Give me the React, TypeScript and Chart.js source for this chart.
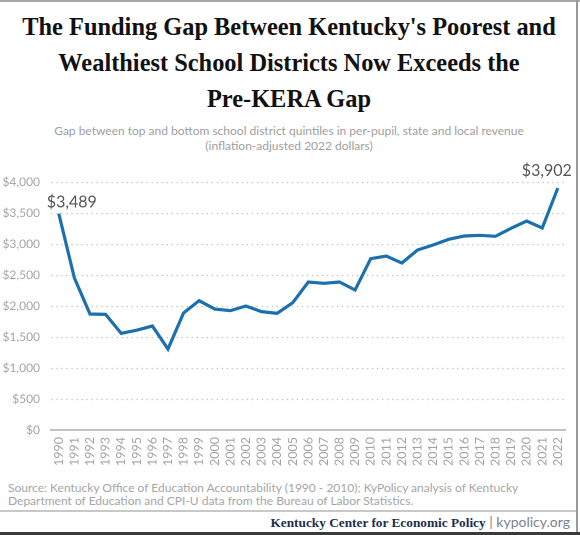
import React, { useEffect, useRef } from "react";
import { Chart, registerables } from "chart.js";

Chart.register(...registerables);

const years = [
  "1990", "1991", "1992", "1993", "1994", "1995", "1996", "1997", "1998", "1999",
  "2000", "2001", "2002", "2003", "2004", "2005", "2006", "2007", "2008", "2009",
  "2010", "2011", "2012", "2013", "2014", "2015", "2016", "2017", "2018", "2019",
  "2020", "2021", "2022",
];

const gapValues = [
  3489, 2452, 1871, 1865, 1559, 1610, 1677, 1306, 1887, 2086,
  1951, 1925, 2000, 1909, 1882, 2054, 2387, 2366, 2387, 2258,
  2763, 2806, 2693, 2903, 2984, 3075, 3129, 3140, 3124, 3253,
  3371, 3258, 3902,
];

const yMin = 0;
const yMax = 4000;
const yStep = 500;

const labelledPoints = [
  { index: 0, text: "$3,489" },
  { index: 32, text: "$3,902" },
];

const titleLines = [
  "The Funding Gap Between Kentucky's Poorest and",
  "Wealthiest School Districts Now Exceeds the",
  "Pre-KERA Gap",
];
const subtitleLines = [
  "Gap between top and bottom school district quintiles in per-pupil, state and local revenue",
  "(inflation-adjusted 2022 dollars)",
];
const sourceLines = [
  "Source: Kentucky Office of Education Accountability (1990 - 2010); KyPolicy analysis of Kentucky",
  "Department of Education and CPI-U data from the Bureau of Labor Statistics.",
];

const SANS = "Lato, 'Open Sans', sans-serif";
const SERIF = "'Liberation Serif', 'DejaVu Serif', serif";

const labelStyles: Record<number, { align: CanvasTextAlign; dx: number; dy: number }> = {
  0: { align: "left", dx: -12, dy: -6 },
  32: { align: "right", dx: 14, dy: -12 },
};

const overlayPlugin = {
  id: "overlay",
  beforeDatasetsDraw(chart: any) {
    const { ctx, chartArea, scales } = chart;
    const y = scales.y;
    ctx.save();
    ctx.strokeStyle = "#c4c4c4";
    ctx.lineWidth = 1.6;
    ctx.lineCap = "round";
    ctx.setLineDash([0.01, 5]);
    y.ticks.forEach((t: any) => {
      if (t.value === 0) return;
      const py = Math.round(y.getPixelForValue(t.value)) + 0.5;
      ctx.beginPath();
      ctx.moveTo(chartArea.left + 1, py);
      ctx.lineTo(chartArea.right - 2, py);
      ctx.stroke();
    });
    ctx.restore();
  },
  afterDatasetsDraw(chart: any) {
    const { ctx, scales } = chart;
    ctx.save();
    ctx.fillStyle = "#555555";
    ctx.font = `16px ${SANS}`;
    ctx.textBaseline = "alphabetic";
    labelledPoints.forEach((p) => {
      const st = labelStyles[p.index];
      const px = scales.x.getPixelForValue(p.index);
      const py = scales.y.getPixelForValue(gapValues[p.index]);
      ctx.textAlign = st.align;
      ctx.fillText(p.text, px + st.dx, py + st.dy);
    });
    ctx.restore();
  },
};

function GapChart() {
  const ref = useRef<HTMLCanvasElement | null>(null);
  useEffect(() => {
    if (!ref.current) return;
    const chart = new Chart(ref.current, {
      type: "line",
      data: {
        labels: years,
        datasets: [
          {
            data: gapValues,
            borderColor: "#1b70ad",
            borderWidth: 3.2,
            pointRadius: 0,
            pointHoverRadius: 0,
            tension: 0,
            fill: false,
            borderJoinStyle: "miter",
          },
        ],
      },
      options: {
        animation: false,
        responsive: false,
        devicePixelRatio: 2,
        layout: { padding: { top: 22, right: 11, bottom: 0, left: 0 } },
        plugins: {
          legend: { display: false },
          tooltip: { enabled: false },
          title: { display: false },
        },
        scales: {
          x: {
            type: "category",
            offset: true,
            grid: { display: false, drawTicks: false },
            border: { display: true, color: "#c2c2c2", width: 2 },
            ticks: {
              autoSkip: false,
              minRotation: 90,
              maxRotation: 90,
              padding: 7,
              color: "#a3a3a3",
              font: { family: SANS, size: 12.5 },
            },
            afterFit: (s: any) => {
              s.height = 50;
            },
          },
          y: {
            min: yMin,
            max: yMax,
            grid: { display: false, drawTicks: false },
            border: { display: false },
            ticks: {
              stepSize: yStep,
              padding: 11,
              color: "#a3a3a3",
              font: { family: SANS, size: 12 },
              callback: (v: any) => "$" + Number(v).toLocaleString("en-US"),
            },
            afterFit: (s: any) => {
              s.width = 51;
            },
          },
        },
      },
      plugins: [overlayPlugin],
    });
    return () => chart.destroy();
  }, []);
  return (
    <canvas
      ref={ref}
      width={580}
      height={320}
      style={{ position: "absolute", left: 0, top: 160, width: 580, height: 320 }}
    />
  );
}

export default function App() {
  return (
    <div
      style={{
        position: "fixed",
        left: 0,
        top: 0,
        width: 580,
        height: 535,
        background: "#ffffff",
        overflow: "hidden",
      }}
    >
      <div style={{ position: "absolute", left: 0, top: 0, width: 580, height: 2, background: "#a8a8a8" }} />
      <div style={{ position: "absolute", left: 576, top: 0, width: 2, height: 535, background: "#9a9a9a" }} />
      <div style={{ position: "absolute", left: 0, top: 532, width: 580, height: 3, background: "#3a3a3a" }} />
      <div
        style={{
          position: "absolute",
          left: 0,
          top: 9,
          width: 578,
          textAlign: "center",
          fontFamily: SERIF,
          fontWeight: 700,
          fontSize: 24.4,
          lineHeight: "36px",
          color: "#111111",
          whiteSpace: "nowrap",
        }}
      >
        {titleLines.map((t, i) => (
          <div key={i}>{t}</div>
        ))}
      </div>
      <div
        style={{
          position: "absolute",
          left: 0,
          top: 122.5,
          width: 578,
          textAlign: "center",
          fontFamily: SANS,
          fontSize: 12,
          lineHeight: "15px",
          color: "#a0a0a0",
          whiteSpace: "nowrap",
        }}
      >
        {subtitleLines.map((t, i) => (
          <div key={i}>{t}</div>
        ))}
      </div>
      <GapChart />
      <div
        style={{
          position: "absolute",
          left: 8,
          top: 481,
          width: 570,
          fontFamily: SANS,
          fontSize: 12,
          lineHeight: "13px",
          color: "#a6a6a6",
          whiteSpace: "nowrap",
        }}
      >
        {sourceLines.map((t, i) => (
          <div key={i}>{t}</div>
        ))}
      </div>
      <div style={{ position: "absolute", left: 0, top: 510, width: 576, height: 2, background: "#c8c8c8" }} />
      <div
        style={{
          position: "absolute",
          right: 10,
          top: 513,
          height: 18,
          lineHeight: "18px",
          whiteSpace: "nowrap",
        }}
      >
        <span style={{ fontFamily: SERIF, fontWeight: 700, fontSize: 13.3, color: "#1d2f4f" }}>
          Kentucky Center for Economic Policy
        </span>
        <span style={{ fontFamily: SANS, fontSize: 14, color: "#7a8290" }}> | kypolicy.org</span>
      </div>
    </div>
  );
}
